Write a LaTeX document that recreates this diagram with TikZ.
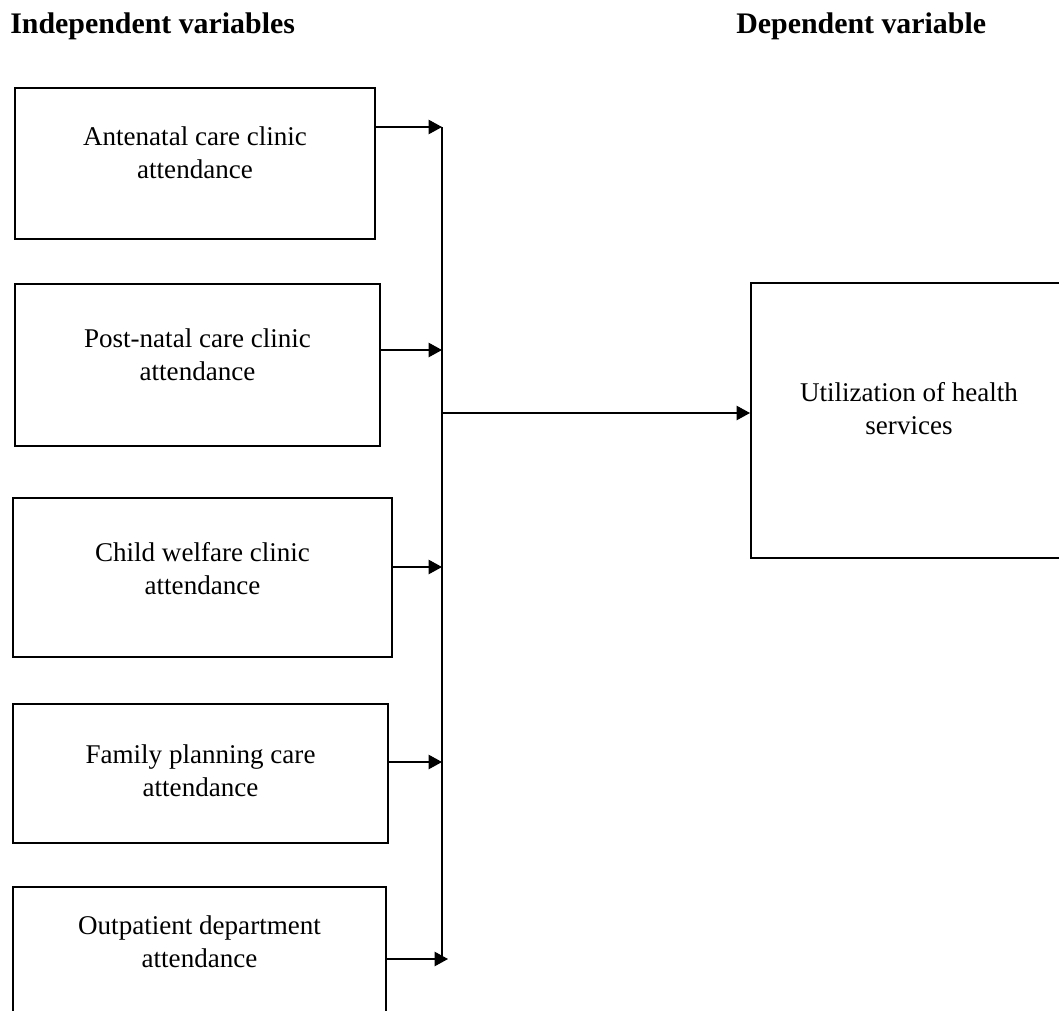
\documentclass[tikz,border=0pt]{standalone}
\usepackage{fontspec}
\setmainfont{Liberation Serif}
\usetikzlibrary{positioning, arrows.meta}

\begin{document}
\begin{tikzpicture}[
    x=0.02cm, y=-0.02cm,
    box/.style={rectangle, draw=black, line width=1.2pt, anchor=north west, inner sep=0pt},
    lbl/.style={anchor=north, align=center, inner sep=0pt,
        font=\fontsize{15.4}{18.8}\selectfont},
    head/.style={anchor=base west, inner sep=0pt,
        font=\fontsize{17}{20}\selectfont\bfseries},
    line/.style={-{Triangle[length=0.27cm, width=0.29cm]}, line width=0.7pt},
    bus/.style={line width=1.2pt}
    ]
    \useasboundingbox (0,0) rectangle (1059,1011);

    % headings
    \node[head] (indep) at (10,33) {Independent variables};
    \node[head] (dep) at (736,33) {Dependent variable};

    % independent variables
    \node[box, minimum width=7.2cm, minimum height=3.02cm] (anc) at (14,87) {};
    \node[lbl, below=0.79cm of anc.north] (anct) {Antenatal care clinic\\attendance};
    \node[box, minimum width=7.3cm, minimum height=3.24cm] (pnc) at (14,283) {};
    \node[lbl, below=0.9cm of pnc.north] (pnct) {Post-natal care clinic\\attendance};
    \node[box, minimum width=7.58cm, minimum height=3.18cm] (cwc) at (12,497) {};
    \node[lbl, below=0.9cm of cwc.north] (cwct) {Child welfare clinic\\attendance};
    \node[box, minimum width=7.5cm, minimum height=2.78cm] (fpc) at (12,703) {};
    \node[lbl, below=0.82cm of fpc.north] (fpct) {Family planning care\\attendance};
    \node[box, minimum width=7.46cm, minimum height=2.88cm] (opd) at (12,886) {};
    \node[lbl, below=0.58cm of opd.north] (opdt) {Outpatient department\\attendance};

    % dependent variable
    \node[box, minimum width=6.32cm, minimum height=5.5cm] (util) at (750,282) {};
    \node[lbl, below=2.0cm of util.north] (utilt) {Utilization of health\\services};

    % junctions on the bus
    \coordinate (j1) at (442,127);
    \coordinate (j2) at (442,350);
    \coordinate (j3) at (442,567);
    \coordinate (j4) at (442,762);
    \coordinate (j5) at (448,959);
    \coordinate (jm) at (442,413);
    \coordinate (jend) at (442,957);

    \draw[bus] (j1) -- (jend);
    \draw[line] (anc.east |- j1) -- (j1);
    \draw[line] (pnc.east |- j2) -- (j2);
    \draw[line] (cwc.east |- j3) -- (j3);
    \draw[line] (fpc.east |- j4) -- (j4);
    \draw[line] (opd.east |- j5) -- (j5);
    \draw[line] (jm) -- (util.west |- jm);
\end{tikzpicture}
\end{document}
